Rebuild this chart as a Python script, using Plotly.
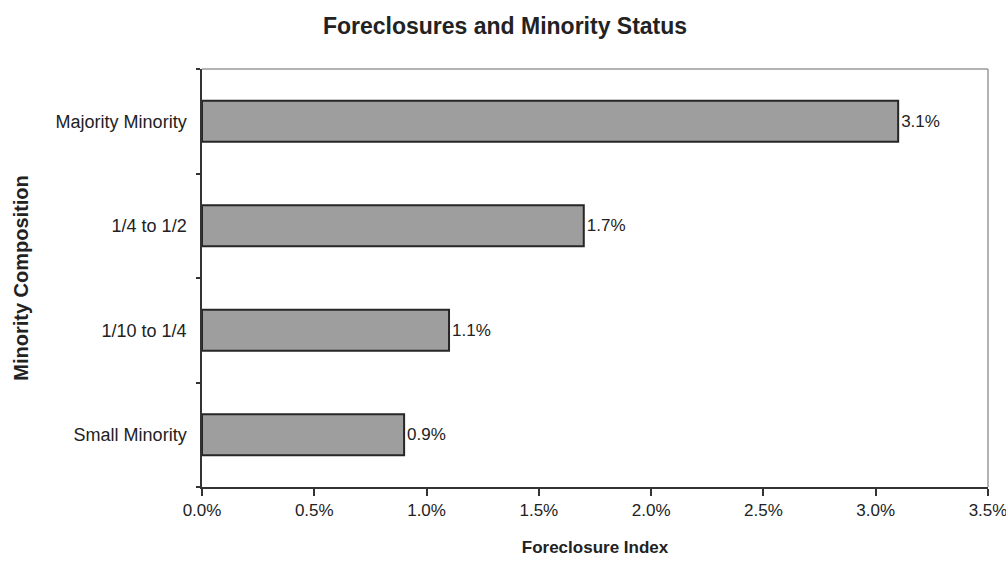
import plotly.graph_objects as go

# Foreclosure index by neighbourhood minority composition
categories = ["Small Minority", "1/10 to 1/4", "1/4 to 1/2", "Majority Minority"]
foreclosure_index = [0.009, 0.011, 0.017, 0.031]
x_ticks = [0.0, 0.005, 0.010, 0.015, 0.020, 0.025, 0.030, 0.035]

FONT = "Liberation Sans, Arial, sans-serif"
INK = "#222222"

fig = go.Figure(
    go.Bar(
        y=categories,
        x=foreclosure_index,
        orientation="h",
        marker=dict(color="#9e9e9e", line=dict(color="#262626", width=2)),
        text=[f"{v:.1%}" for v in foreclosure_index],
        textposition="outside",
        textfont=dict(family=FONT, size=17, color=INK),
        cliponaxis=False,
        width=0.39,
        hoverinfo="skip",
    )
)

fig.update_layout(
    width=1006,
    height=562,
    margin=dict(l=202, r=18, t=69, b=75),
    paper_bgcolor="white",
    plot_bgcolor="white",
    showlegend=False,
    title=dict(
        text="<b>Foreclosures and Minority Status</b>",
        font=dict(family=FONT, size=23, color=INK),
        x=0.502,
        xanchor="center",
        xref="container",
        y=1 - 26 / 562,
        yref="container",
        yanchor="middle",
    ),
    xaxis=dict(
        range=[0, 0.035],
        tickvals=x_ticks,
        tickformat=".1%",
        ticklabeloverflow="allow",
        automargin=False,
        showgrid=False,
        zeroline=False,
        showline=True,
        linecolor="#333333",
        linewidth=1.5,
        ticks="outside",
        ticklen=7,
        tickwidth=1.5,
        tickcolor="#333333",
        tickfont=dict(family=FONT, size=17, color=INK),
        title=dict(
            text="<b>Foreclosure Index</b>",
            font=dict(family=FONT, size=17, color=INK),
            standoff=22,
        ),
    ),
    yaxis=dict(
        categoryorder="array",
        categoryarray=categories,
        automargin=False,
        showgrid=False,
        zeroline=False,
        showline=True,
        linecolor="#333333",
        linewidth=1.5,
        ticks="outside",
        tickson="boundaries",
        ticklen=4,
        tickwidth=1.5,
        tickcolor="#333333",
        ticklabelstandoff=10,
        tickfont=dict(family=FONT, size=18, color=INK),
        title=dict(
            text="<b>Minority Composition</b>",
            font=dict(family=FONT, size=20, color=INK),
            standoff=22,
        ),
    ),
    shapes=[
        # light frame on the top and right sides of the plotting area
        dict(type="line", xref="paper", yref="paper", x0=0, x1=1, y0=1, y1=1,
             line=dict(color="#9a9a9a", width=1.5)),
        dict(type="line", xref="paper", yref="paper", x0=1, x1=1, y0=0, y1=1,
             line=dict(color="#9a9a9a", width=1.5)),
    ],
)

fig.write_html("out.html")
